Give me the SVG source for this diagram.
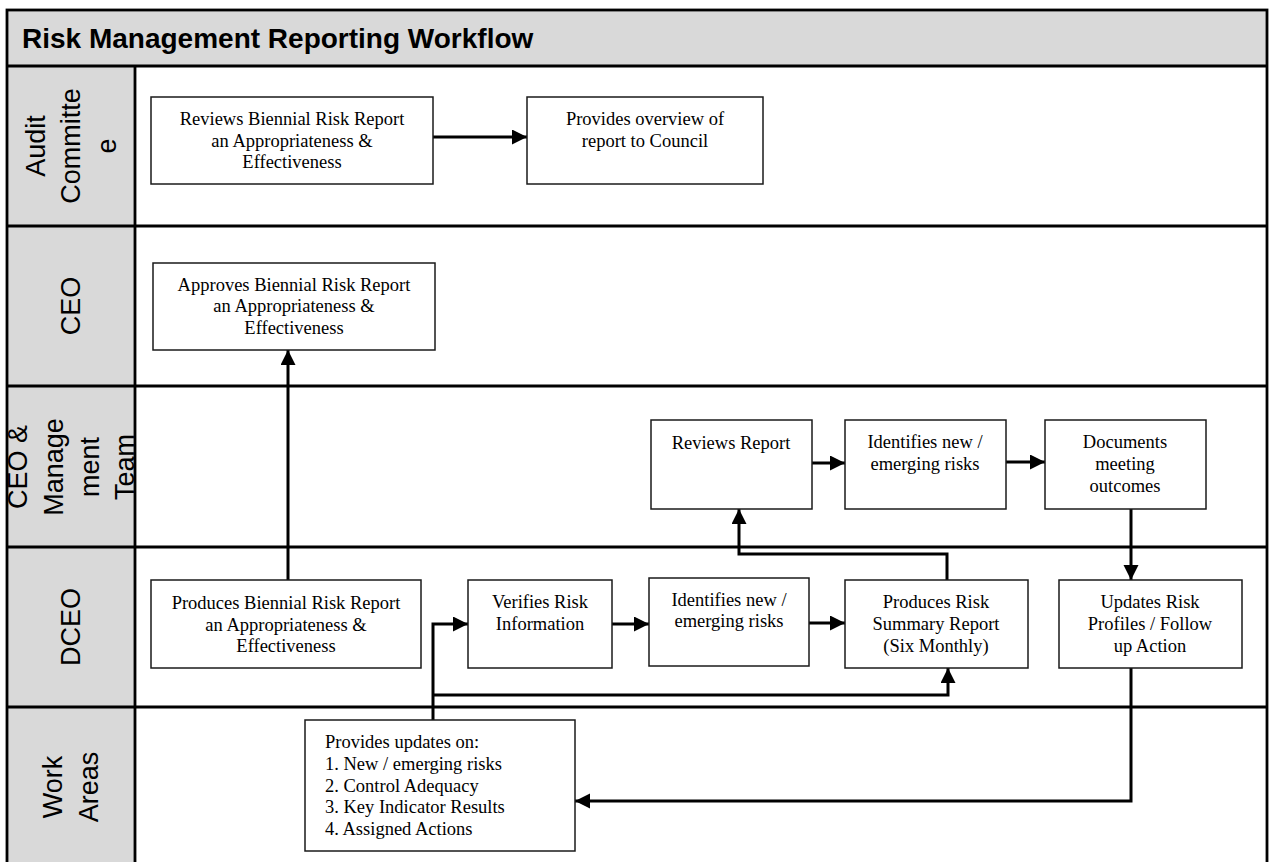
<svg xmlns="http://www.w3.org/2000/svg" width="1269" height="862" viewBox="0 0 1269 862">
<style>
.lane{fill:none;stroke:#000;stroke-width:2.8}
.lbl{font-family:"Liberation Sans",Arial,sans-serif;font-size:27px;fill:#000;text-anchor:middle}
.box{fill:#fff;stroke:#1a1a1a;stroke-width:1.5}
.t{font-family:"Liberation Serif","Times New Roman",serif;font-size:18.5px;fill:#000;text-anchor:middle}
.tl{font-family:"Liberation Serif","Times New Roman",serif;font-size:18.5px;fill:#000}
.c{fill:none;stroke:#000;stroke-width:3;marker-end:url(#ah)}
</style>
<defs>
<marker id="ah" markerUnits="userSpaceOnUse" markerWidth="16" markerHeight="16" refX="15" refY="7.5" orient="auto">
<path d="M0,0 L15,7.5 L0,15 Z" fill="#000"/>
</marker>
</defs>
<rect width="1269" height="862" fill="#fff"/>
<g id="frame">
<rect x="7" y="10" width="1260" height="56" fill="#d9d9d9"/>
<rect x="7" y="66" width="128" height="810" fill="#d9d9d9"/>
<text x="22" y="48" font-family="'Liberation Sans',Arial,sans-serif" font-size="28" font-weight="bold">Risk Management Reporting Workflow</text>
<rect class="lane" x="7" y="10" width="1260" height="866"/>
<line class="lane" x1="7" y1="66" x2="1267" y2="66"/>
<line class="lane" x1="7" y1="226" x2="1267" y2="226"/>
<line class="lane" x1="7" y1="386" x2="1267" y2="386"/>
<line class="lane" x1="7" y1="547" x2="1267" y2="547"/>
<line class="lane" x1="7" y1="707" x2="1267" y2="707"/>
<line class="lane" x1="135" y1="66" x2="135" y2="876"/>
</g>
<g id="lane-labels">
<text class="lbl" transform="translate(45,146) rotate(-90)">Audit</text>
<text class="lbl" transform="translate(80,146) rotate(-90)">Committe</text>
<text class="lbl" transform="translate(116,146) rotate(-90)">e</text>
<text class="lbl" transform="translate(80,306) rotate(-90)">CEO</text>
<text class="lbl" transform="translate(27,467) rotate(-90)">CEO &amp;</text>
<text class="lbl" transform="translate(63,467) rotate(-90)">Manage</text>
<text class="lbl" transform="translate(99,467) rotate(-90)">ment</text>
<text class="lbl" transform="translate(134,467) rotate(-90)">Team</text>
<text class="lbl" transform="translate(80,627) rotate(-90)">DCEO</text>
<text class="lbl" transform="translate(62,787) rotate(-90)">Work</text>
<text class="lbl" transform="translate(98,787) rotate(-90)">Areas</text>
</g>
<g id="connectors">
<path class="c" d="M433,137 H527"/>
<path class="c" d="M288,580 V350"/>
<path class="c" d="M433,720 V624 H468"/>
<path class="c" d="M433,695 H948 V668"/>
<path class="c" d="M612,624 H649"/>
<path class="c" d="M809,623 H845"/>
<path class="c" d="M947,580 V554 H739 V509"/>
<path class="c" d="M812,463 H845"/>
<path class="c" d="M1006,462 H1045"/>
<path class="c" d="M1131,509 V580"/>
<path class="c" d="M1131,668 V801 H575"/>
</g>
<g id="n-audit-review">
<rect class="box" x="151" y="97" width="282" height="87"/>
<text class="t" x="292" y="125">Reviews Biennial Risk Report</text>
<text class="t" x="292" y="147">an Appropriateness &amp;</text>
<text class="t" x="292" y="168">Effectiveness</text>
</g>
<g id="n-audit-overview">
<rect class="box" x="527" y="97" width="236" height="87"/>
<text class="t" x="645" y="125">Provides overview of</text>
<text class="t" x="645" y="147">report to Council</text>
</g>
<g id="n-ceo-approve">
<rect class="box" x="153" y="263" width="282" height="87"/>
<text class="t" x="294" y="291">Approves Biennial Risk Report</text>
<text class="t" x="294" y="312">an Appropriateness &amp;</text>
<text class="t" x="294" y="334">Effectiveness</text>
</g>
<g id="n-mgmt-review">
<rect class="box" x="651" y="420" width="161" height="89"/>
<text class="t" x="731" y="449">Reviews Report</text>
</g>
<g id="n-mgmt-identify">
<rect class="box" x="845" y="420" width="161" height="89"/>
<text class="t" x="925" y="448">Identifies new /</text>
<text class="t" x="925" y="470">emerging risks</text>
</g>
<g id="n-mgmt-document">
<rect class="box" x="1045" y="420" width="161" height="89"/>
<text class="t" x="1125" y="448">Documents</text>
<text class="t" x="1125" y="470">meeting</text>
<text class="t" x="1125" y="492">outcomes</text>
</g>
<g id="n-dceo-produce">
<rect class="box" x="151" y="580" width="270" height="88"/>
<text class="t" x="286" y="609">Produces Biennial Risk Report</text>
<text class="t" x="286" y="631">an Appropriateness &amp;</text>
<text class="t" x="286" y="652">Effectiveness</text>
</g>
<g id="n-dceo-verify">
<rect class="box" x="468" y="580" width="144" height="88"/>
<text class="t" x="540" y="608">Verifies Risk</text>
<text class="t" x="540" y="630">Information</text>
</g>
<g id="n-dceo-identify">
<rect class="box" x="649" y="578" width="160" height="88"/>
<text class="t" x="729" y="606">Identifies new /</text>
<text class="t" x="729" y="627">emerging risks</text>
</g>
<g id="n-dceo-summary">
<rect class="box" x="845" y="580" width="183" height="88"/>
<text class="t" x="936" y="608">Produces Risk</text>
<text class="t" x="936" y="630">Summary Report</text>
<text class="t" x="936" y="652">(Six Monthly)</text>
</g>
<g id="n-dceo-update">
<rect class="box" x="1059" y="580" width="183" height="88"/>
<text class="t" x="1150" y="608">Updates Risk</text>
<text class="t" x="1150" y="630">Profiles / Follow</text>
<text class="t" x="1150" y="652">up Action</text>
</g>
<g id="n-work-updates">
<rect class="box" x="305" y="720" width="270" height="131"/>
<text class="tl" x="325" y="748">Provides updates on:</text>
<text class="tl" x="325" y="770">1. New / emerging risks</text>
<text class="tl" x="325" y="792">2. Control Adequacy</text>
<text class="tl" x="325" y="813">3. Key Indicator Results</text>
<text class="tl" x="325" y="835">4. Assigned Actions</text>
</g>
</svg>
